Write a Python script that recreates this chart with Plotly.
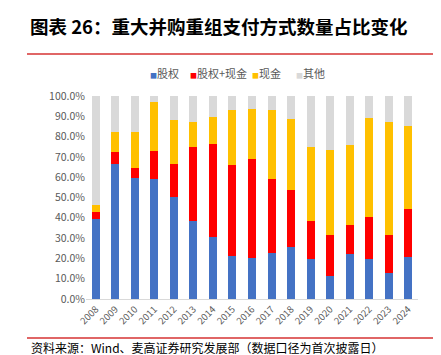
import plotly.graph_objects as go

years = [str(y) for y in range(2008, 2025)]
equity = [39.5, 66.6, 59.4, 59.0, 50.2, 38.6, 30.3, 21.4, 20.4, 22.5, 25.5, 19.6, 11.5, 22.2, 19.7, 12.7, 20.7]
equity_cash = [3.4, 5.8, 5.2, 13.7, 16.1, 36.5, 46.2, 44.4, 48.8, 36.4, 28.4, 18.9, 19.9, 14.5, 20.6, 19.0, 23.7]
cash = [3.6, 10.1, 17.5, 24.2, 21.8, 12.2, 13.0, 27.1, 24.4, 34.3, 34.6, 36.2, 41.9, 39.3, 48.7, 55.6, 40.6]
other = [53.5, 17.5, 17.9, 3.1, 11.9, 12.7, 10.5, 7.1, 6.4, 6.8, 11.5, 25.3, 26.7, 24.0, 11.0, 12.7, 15.0]

series = [("股权", equity, "#4472C4"), ("股权+现金", equity_cash, "#FF0000"),
          ("现金", cash, "#FFC000"), ("其他", other, "#D9D9D9")]
legend_x = [141, 181, 243, 287]  # pixel positions of legend entries

font = "Noto Sans CJK SC"
L, R, T, B = 78, 31, 88, 64
W, H = 441, 355
pw, ph = W - L - R, H - T - B


def px(x):
    return (x - L) / pw


def py(y):
    return (H - B - y) / ph


fig = go.Figure()
for name, vals, color in series:
    fig.add_trace(go.Bar(x=years, y=vals, name=name, marker_color=color,
                         marker_line_width=0, showlegend=False))

annotations = []
for (name, vals, color), lx in zip(series, legend_x):
    annotations.append(dict(
        text=f"<span style='color:{color};font-size:7px'>■</span>{name}",
        xref="paper", yref="paper", x=px(lx - 1), y=py(65), xanchor="left",
        yanchor="middle", showarrow=False,
        font=dict(size=11, color="#595959", family=font)))

annotations.append(dict(
    text="资料来源：Wind、麦高证券研究发展部（数据口径为首次披露日）",
    xref="paper", yref="paper", x=px(22), y=py(339), xanchor="left",
    yanchor="middle", showarrow=False, borderpad=0,
    font=dict(size=12, color="#000000", family=font)))

fig.update_layout(
    barmode="stack", bargap=0.59,
    width=W, height=H,
    margin=dict(l=L, r=R, t=T, b=B),
    plot_bgcolor="white", paper_bgcolor="white",
    font=dict(family=font, color="#595959", size=10),
    showlegend=False,
    title=dict(text="<b>图表 26：重大并购重组支付方式数量占比变化</b>",
               x=22 / W, xanchor="left", y=1 - 20 / H, yanchor="middle",
               font=dict(size=18.5, color="#000000", family=font)),
    xaxis=dict(type="category", tickangle=-45, showline=True, linecolor="#D9D9D9",
               linewidth=1, ticks="", automargin=False,
               tickfont=dict(size=9.5, color="#595959")),
    yaxis=dict(range=[0, 100], dtick=10, ticksuffix="%", tickformat=".1f",
               showgrid=False, zeroline=False, showline=False, automargin=False,
               tickfont=dict(size=10.5, color="#595959")),
    shapes=[
        dict(type="line", xref="paper", yref="paper", x0=px(19), x1=px(433),
             y0=py(46), y1=py(46), line=dict(color="#E06666", width=2)),
        dict(type="line", xref="paper", yref="paper", x0=px(19), x1=px(433),
             y0=py(330), y1=py(330), line=dict(color="#E06666", width=2)),
    ],
    annotations=annotations,
)
fig.write_html("out.html")
